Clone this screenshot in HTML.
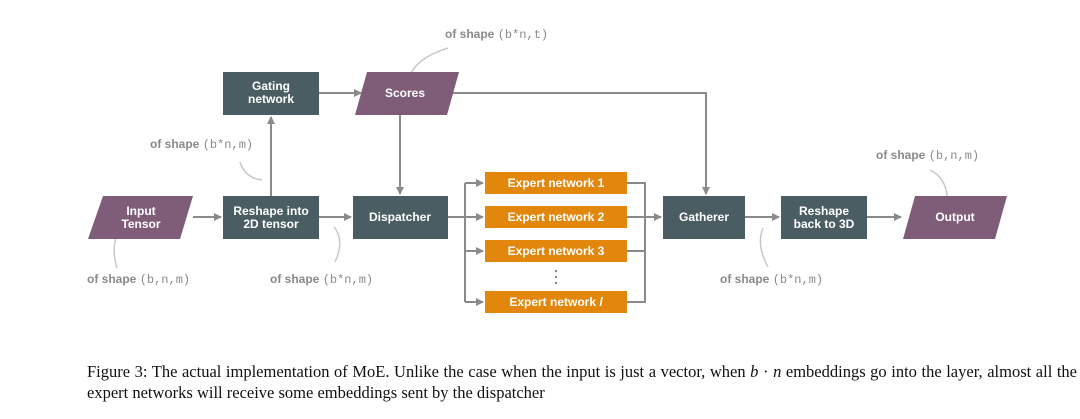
<!DOCTYPE html>
<html><head><style>
body{margin:0;background:#fff;width:1080px;height:419px;overflow:hidden;position:relative;font-family:"Liberation Sans",sans-serif}
.cap{position:absolute;left:87px;top:361px;width:990px;font-family:"Liberation Serif",serif;font-size:16.5px;line-height:21px;color:#111;text-align:justify;text-align-last:left}
</style></head><body>
<svg width="1080" height="340" style="position:absolute;left:0;top:0">
<defs><marker id="a" markerWidth="8" markerHeight="8" refX="7" refY="4" orient="auto" markerUnits="userSpaceOnUse"><path d="M0,0L8,4L0,8z" fill="#8a8a8a"/></marker></defs>
<g stroke="#8a8a8a" stroke-width="2" fill="none">
<line x1="193" y1="217" x2="221" y2="217" marker-end="url(#a)"/>
<line x1="319" y1="217" x2="351" y2="217" marker-end="url(#a)"/>
<line x1="271" y1="196" x2="271" y2="117" marker-end="url(#a)"/>
<line x1="319" y1="93" x2="361" y2="93" marker-end="url(#a)"/>
<line x1="400" y1="115" x2="400" y2="194" marker-end="url(#a)"/>
<polyline points="452,93 706,93 706,194" marker-end="url(#a)"/>
<line x1="448" y1="217" x2="465" y2="217"/>
<line x1="465" y1="183" x2="465" y2="302"/>
<line x1="465" y1="183" x2="483" y2="183" marker-end="url(#a)"/>
<line x1="465" y1="217" x2="483" y2="217" marker-end="url(#a)"/>
<line x1="465" y1="251" x2="483" y2="251" marker-end="url(#a)"/>
<line x1="465" y1="302" x2="483" y2="302" marker-end="url(#a)"/>
<polyline points="627,183 645,183 645,302 627,302"/>
<line x1="627" y1="251" x2="645" y2="251"/>
<line x1="627" y1="217" x2="661" y2="217" marker-end="url(#a)"/>
<line x1="745" y1="217" x2="779" y2="217" marker-end="url(#a)"/>
<line x1="867" y1="217" x2="901" y2="217" marker-end="url(#a)"/>
</g>
<g stroke="#c8c8c8" stroke-width="1.5" fill="none">
<path d="M120,229 Q110,245 117,268"/>
<path d="M262,180 Q245,178 240,162"/>
<path d="M334,227 Q345,240 335,262"/>
<path d="M408,84 Q410,60 448,48"/>
<path d="M763,228 Q756,245 768,267"/>
<path d="M947,208 Q950,180 930,170"/>
</g>
<g fill="#4a5d63">
<rect x="223" y="72" width="96" height="43"/>
<rect x="223" y="196" width="96" height="43"/>
<rect x="353" y="196" width="95" height="43"/>
<rect x="663" y="196" width="82" height="43"/>
<rect x="781" y="196" width="86" height="43"/>
</g>
<g fill="#7f5d78">
<polygon points="367,72 459,72 447,115 355,115"/>
<polygon points="103,196 193,196 180,239 88,239"/>
<polygon points="915,196 1007,196 995,239 903,239"/>
</g>
<g fill="#e2870c">
<rect x="485" y="172" width="142" height="22"/>
<rect x="485" y="206" width="142" height="22"/>
<rect x="485" y="240" width="142" height="22"/>
<rect x="485" y="291" width="142" height="22"/>
</g>
<g fill="#fff" font-size="12" font-weight="bold" text-anchor="middle" font-family="Liberation Sans,sans-serif">
<text x="271" y="90">Gating</text><text x="271" y="103">network</text>
<text x="405" y="97">Scores</text>
<text x="141" y="215">Input</text><text x="141" y="228">Tensor</text>
<text x="271" y="215">Reshape into</text><text x="271" y="228">2D tensor</text>
<text x="400" y="221">Dispatcher</text>
<text x="704" y="221">Gatherer</text>
<text x="824" y="215">Reshape</text><text x="824" y="228">back to 3D</text>
<text x="955" y="221">Output</text>
<text x="556" y="187">Expert network 1</text>
<text x="556" y="221">Expert network 2</text>
<text x="556" y="255">Expert network 3</text>
<text x="556" y="306">Expert network <tspan font-style="italic">l</tspan></text>
</g>
<g fill="#888"><circle cx="556" cy="271" r="1.2"/><circle cx="556" cy="277" r="1.2"/><circle cx="556" cy="283" r="1.2"/></g>
<g fill="#8a8a8a" font-size="12" font-weight="bold" font-family="Liberation Sans,sans-serif">
<text x="445" y="38">of shape <tspan font-family="Liberation Mono,monospace" font-weight="normal">(b*n,t)</tspan></text>
<text x="150" y="148">of shape <tspan font-family="Liberation Mono,monospace" font-weight="normal">(b*n,m)</tspan></text>
<text x="87" y="283">of shape <tspan font-family="Liberation Mono,monospace" font-weight="normal">(b,n,m)</tspan></text>
<text x="270" y="283">of shape <tspan font-family="Liberation Mono,monospace" font-weight="normal">(b*n,m)</tspan></text>
<text x="720" y="283">of shape <tspan font-family="Liberation Mono,monospace" font-weight="normal">(b*n,m)</tspan></text>
<text x="876" y="159">of shape <tspan font-family="Liberation Mono,monospace" font-weight="normal">(b,n,m)</tspan></text>
</g>
</svg>
<div class="cap">Figure 3: The actual implementation of MoE. Unlike the case when the input is just a vector, when <i>b</i> · <i>n</i> embeddings go into the layer, almost all the expert networks will receive some embeddings sent by the dispatcher</div>
</body></html>
